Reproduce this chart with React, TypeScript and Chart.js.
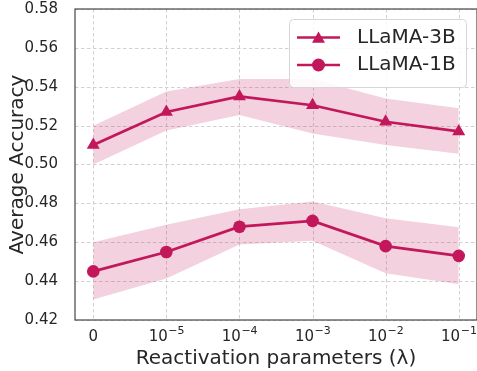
import React, { useEffect, useRef } from "react";
import { Chart, registerables } from "chart.js";

Chart.register(...registerables);

const categoryBase = ["0", "10", "10", "10", "10", "10"];
const categoryExp = ["", "−5", "−4", "−3", "−2", "−1"];
const yTicks = [0.42, 0.44, 0.46, 0.48, 0.5, 0.52, 0.54, 0.56, 0.58];

const seriesNames = ["LLaMA-3B", "LLaMA-1B"];
const llama3B = [0.51, 0.527, 0.535, 0.5305, 0.522, 0.517];
const llama3BUpper = [0.52, 0.5375, 0.544, 0.544, 0.534, 0.529];
const llama3BLower = [0.5, 0.5175, 0.5255, 0.516, 0.51, 0.5055];
const llama1B = [0.445, 0.455, 0.468, 0.471, 0.458, 0.453];
const llama1BUpper = [0.46, 0.469, 0.477, 0.481, 0.4723, 0.4677];
const llama1BLower = [0.4305, 0.4413, 0.4589, 0.4608, 0.4441, 0.4384];

const LINE = "#c2185b";
const BAND = "rgba(194,24,91,0.2)";
const TEXT = "#262626";
const FONT = "'DejaVu Sans', sans-serif";

const toXY = (arr: number[]) => arr.map((y, i) => ({ x: i, y }));

const decor = {
  id: "decor",
  beforeDraw(chart: any) {
    const { ctx, chartArea, scales } = chart;
    ctx.save();
    ctx.strokeStyle = "#cccccc";
    ctx.lineWidth = 0.9;
    ctx.setLineDash([3.5, 2.5]);
    categoryBase.forEach((_, i) => {
      const x = Math.round(scales.x.getPixelForValue(i)) + 0.5;
      ctx.beginPath();
      ctx.moveTo(x, chartArea.top);
      ctx.lineTo(x, chartArea.bottom);
      ctx.stroke();
    });
    yTicks.forEach((v) => {
      const y = Math.round(scales.y.getPixelForValue(v)) + 0.5;
      ctx.beginPath();
      ctx.moveTo(chartArea.left, y);
      ctx.lineTo(chartArea.right, y);
      ctx.stroke();
    });
    ctx.restore();
  },
  afterDatasetsDraw(chart: any) {
    const { ctx, chartArea } = chart;
    ctx.save();
    ctx.strokeStyle = "#4d4d4d";
    ctx.lineWidth = 1.25;
    ctx.strokeRect(chartArea.left, chartArea.top, chartArea.right - chartArea.left, chartArea.bottom - chartArea.top);
    ctx.restore();
  },
  afterDraw(chart: any) {
    const { ctx, scales } = chart;
    ctx.save();
    // x tick labels with superscript exponents
    ctx.fillStyle = TEXT;
    ctx.textBaseline = "alphabetic";
    ctx.textAlign = "left";
    categoryBase.forEach((base, i) => {
      const x = scales.x.getPixelForValue(i);
      ctx.font = `15px ${FONT}`;
      const wb = ctx.measureText(base).width;
      ctx.font = `11px ${FONT}`;
      const exp = categoryExp[i];
      const we = exp ? ctx.measureText(exp).width : 0;
      const start = x - (wb + we) / 2;
      ctx.font = `15px ${FONT}`;
      ctx.fillText(base, start, 340.5);
      if (exp) {
        ctx.font = `11px ${FONT}`;
        ctx.fillText(exp, start + wb + 0.5, 334);
      }
    });

    // legend
    const bx = 289.5, by = 19.5, bw = 177, bh = 68, r = 4;
    ctx.beginPath();
    ctx.moveTo(bx + r, by);
    ctx.arcTo(bx + bw, by, bx + bw, by + bh, r);
    ctx.arcTo(bx + bw, by + bh, bx, by + bh, r);
    ctx.arcTo(bx, by + bh, bx, by, r);
    ctx.arcTo(bx, by, bx + bw, by, r);
    ctx.closePath();
    ctx.fillStyle = "rgba(255,255,255,0.85)";
    ctx.fill();
    ctx.strokeStyle = "#d6d6d6";
    ctx.lineWidth = 1;
    ctx.stroke();
    const rows = [37.5, 65];
    const styles = ["triangle", "circle"];
    rows.forEach((ry, i) => {
      ctx.strokeStyle = LINE;
      ctx.lineWidth = 2.7;
      ctx.beginPath();
      ctx.moveTo(297, ry);
      ctx.lineTo(340, ry);
      ctx.stroke();
      ctx.fillStyle = LINE;
      ctx.beginPath();
      if (styles[i] === "circle") {
        ctx.arc(318.5, ry, 6.5, 0, Math.PI * 2);
      } else {
        const rr = 7.5;
        for (let k = 0; k < 3; k++) {
          const a = (k * 2 * Math.PI) / 3;
          const px = 318.5 + Math.sin(a) * rr;
          const py = ry + 1.5 - Math.cos(a) * rr;
          if (k === 0) ctx.moveTo(px, py);
          else ctx.lineTo(px, py);
        }
        ctx.closePath();
      }
      ctx.fill();
      ctx.fillStyle = TEXT;
      ctx.font = `20px ${FONT}`;
      ctx.textBaseline = "middle";
      ctx.textAlign = "left";
      ctx.fillText(seriesNames[i], 357, ry);
    });
    ctx.restore();
  },
};

export default function App() {
  const ref = useRef<HTMLCanvasElement>(null);
  useEffect(() => {
    if (!ref.current) return;
    const chart = new Chart(ref.current, {
      type: "line",
      data: {
        datasets: [
          {
            label: seriesNames[0],
            data: toXY(llama3B),
            borderColor: LINE,
            backgroundColor: LINE,
            borderWidth: 2.7,
            pointStyle: "triangle",
            pointRadius: 7.5,
            pointBorderWidth: 0,
            fill: false,
          },
          {
            label: seriesNames[1],
            data: toXY(llama1B),
            borderColor: LINE,
            backgroundColor: LINE,
            borderWidth: 2.7,
            pointStyle: "circle",
            pointRadius: 6.3,
            pointBorderWidth: 0,
            fill: false,
          },
          {
            label: "3B upper",
            data: toXY(llama3BUpper),
            borderWidth: 0,
            borderColor: "rgba(0,0,0,0)",
            pointRadius: 0,
            fill: false,
          },
          {
            label: "3B lower",
            data: toXY(llama3BLower),
            borderWidth: 0,
            borderColor: "rgba(0,0,0,0)",
            backgroundColor: BAND,
            pointRadius: 0,
            fill: "-1",
          },
          {
            label: "1B upper",
            data: toXY(llama1BUpper),
            borderWidth: 0,
            borderColor: "rgba(0,0,0,0)",
            pointRadius: 0,
            fill: false,
          },
          {
            label: "1B lower",
            data: toXY(llama1BLower),
            borderWidth: 0,
            borderColor: "rgba(0,0,0,0)",
            backgroundColor: BAND,
            pointRadius: 0,
            fill: "-1",
          },
        ],
      },
      options: {
        responsive: false,
        animation: false,
        devicePixelRatio: 1,
        layout: { autoPadding: false, padding: { left: 0, top: 9, right: 0, bottom: 0 } },
        plugins: {
          legend: { display: false },
          tooltip: { enabled: false },
        },
        scales: {
          x: {
            type: "linear",
            min: -0.25,
            max: 5.25,
            afterBuildTicks: (scale: any) => {
              scale.ticks = categoryBase.map((_, i) => ({ value: i }));
            },
            afterFit: (scale: any) => {
              scale.height = 51;
              scale.paddingLeft = 0;
              scale.paddingRight = 0;
            },
            ticks: { display: false },
            grid: { display: false },
            border: { display: false },
            title: {
              display: true,
              text: "Reactivation parameters (λ)",
              font: { family: FONT, size: 20 },
              color: TEXT,
              padding: { top: 0, bottom: 0 },
            },
          },
          y: {
            type: "linear",
            min: 0.42,
            max: 0.58,
            afterBuildTicks: (scale: any) => {
              scale.ticks = yTicks.map((v) => ({ value: v }));
            },
            afterFit: (scale: any) => {
              scale.width = 75;
              scale.paddingTop = 0;
              scale.paddingBottom = 0;
            },
            ticks: {
              callback: (v: any) => Number(v).toFixed(2),
              font: { family: FONT, size: 15 },
              color: TEXT,
              padding: 9,
            },
            grid: { display: false },
            border: { display: false },
            title: {
              display: true,
              text: "Average Accuracy",
              font: { family: FONT, size: 20 },
              color: TEXT,
              padding: { top: 6, bottom: 0 },
            },
          },
        },
      },
      plugins: [decor],
    } as any);
    return () => chart.destroy();
  }, []);
  return (
    <div style={{ position: "absolute", left: 0, top: 0, width: 477, height: 371, background: "#fff" }}>
      <canvas ref={ref} width={477} height={371} />
    </div>
  );
}
